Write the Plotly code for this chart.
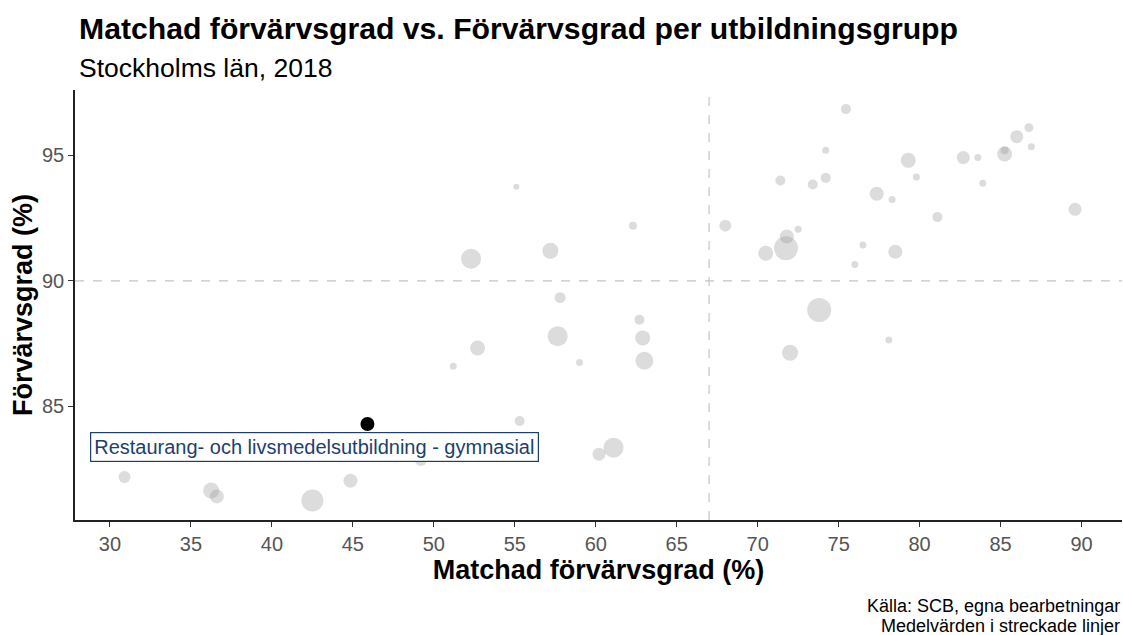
import plotly.graph_objects as go

# Matchad förvärvsgrad (%) per utbildningsgrupp
matchad = [55.1, 52.3, 57.2, 62.3, 68.0, 70.5, 57.8, 75.45, 74.2, 71.4,
           73.4, 74.2, 79.3, 79.8, 77.35, 78.3, 81.1, 82.7, 83.6, 83.9,
           85.25, 85.25, 86.0, 86.75, 86.9, 89.6, 72.5, 71.8, 71.75, 76.5,
           76.0, 78.5, 73.8, 72.0, 78.1, 52.7, 51.2, 57.65, 59.0, 62.7,
           62.9, 63.0, 55.3, 61.1, 60.2, 49.2, 30.9, 36.25, 36.6, 42.5,
           44.85]
# Förvärvsgrad (%)
forvarv = [93.75, 90.88, 91.2, 92.2, 92.2, 91.1, 89.33, 96.84, 95.2, 94.0,
           93.84, 94.1, 94.8, 94.14, 93.47, 93.24, 92.54, 94.91, 94.91, 93.89,
           95.05, 95.2, 95.74, 96.1, 95.34, 92.85, 92.06, 91.77, 91.3, 91.43,
           90.65, 91.16, 88.84, 87.14, 87.65, 87.33, 86.6, 87.8, 86.75, 88.45,
           87.73, 86.82, 84.42, 83.36, 83.1, 82.87, 82.19, 81.65, 81.42, 81.26,
           82.04]
# Antal (relativ gruppstorlek)
antal = [1800, 20000, 12800, 3200, 7200, 11250, 6050, 5000, 2450, 5000,
         5000, 5000, 11250, 2450, 9800, 2450, 5000, 8450, 2450, 2450,
         11250, 3200, 8450, 4050, 2450, 8450, 2450, 9800, 28800, 2450,
         2450, 9800, 28800, 12800, 2450, 11250, 2450, 20000, 2450, 5000,
         11250, 16200, 5000, 20000, 8450, 7200, 7200, 12800, 9800, 24200,
         9800]

vald_grupp = "Restaurang- och livsmedelsutbildning - gymnasial"
vald_x = [45.9]
vald_y = [84.3]
vald_antal = [9800]

medel_x = 67.0
medel_y = 90.0

x_ticks = [30, 35, 40, 45, 50, 55, 60, 65, 70, 75, 80, 85, 90]
y_ticks = [85, 90, 95]

FONT = "Liberation Sans, Arial, sans-serif"
SIZEREF = 100

fig = go.Figure()

fig.add_trace(go.Scatter(
    x=matchad, y=forvarv, mode="markers",
    marker=dict(size=antal, sizemode="area", sizeref=SIZEREF,
                color="rgba(150,150,150,0.47)", line=dict(width=0)),
    hoverinfo="x+y", showlegend=False,
))
fig.add_trace(go.Scatter(
    x=vald_x, y=vald_y, mode="markers",
    marker=dict(size=vald_antal, sizemode="area", sizeref=SIZEREF,
                color="#000000", opacity=1, line=dict(width=0)),
    showlegend=False,
))

fig.add_shape(type="line", xref="x", yref="paper", x0=medel_x, x1=medel_x,
              y0=0, y1=1, line=dict(color="#c4c4c4", width=1.2, dash="dash"),
              layer="below")
fig.add_shape(type="line", xref="paper", yref="y", x0=0, x1=1,
              y0=medel_y, y1=medel_y,
              line=dict(color="#c4c4c4", width=1.2, dash="dash"), layer="below")

fig.add_annotation(x=42.6, y=83.39, xref="x", yref="y", text=vald_grupp,
                   showarrow=False, font=dict(family=FONT, size=20, color="#1c3f6e"),
                   bgcolor="white", bordercolor="#1c3f6e", borderwidth=1.2,
                   borderpad=3)

fig.add_annotation(x=0, y=1.144, xref="paper", yref="paper", xanchor="left",
                   yanchor="middle", xshift=2, showarrow=False,
                   text="<b>Matchad förvärvsgrad vs. Förvärvsgrad per utbildningsgrupp</b>",
                   font=dict(family=FONT, size=30.2, color="black"))
fig.add_annotation(x=0, y=1.051, xref="paper", yref="paper", xanchor="left",
                   yanchor="middle", xshift=2, showarrow=False,
                   text="Stockholms län, 2018",
                   font=dict(family=FONT, size=26.5, color="black"))
fig.add_annotation(x=1, y=-0.2, xref="paper", yref="paper", xanchor="right",
                   yanchor="middle", showarrow=False,
                   text="Källa: SCB, egna bearbetningar",
                   font=dict(family=FONT, size=18, color="black"))
fig.add_annotation(x=1, y=-0.2465, xref="paper", yref="paper", xanchor="right",
                   yanchor="middle", showarrow=False,
                   text="Medelvärden i streckade linjer",
                   font=dict(family=FONT, size=18, color="black"))

fig.update_layout(
    width=1123, height=635,
    margin=dict(l=75, r=1, t=90, b=115),
    paper_bgcolor="white", plot_bgcolor="white",
    font=dict(family=FONT),
    xaxis=dict(range=[27.84, 92.5], tickvals=x_ticks, ticks="outside",
               ticklen=5, tickwidth=1, tickcolor="#333",
               showline=True, linecolor="#222", linewidth=1.5,
               showgrid=False, zeroline=False,
               tickfont=dict(size=20, color="#555"),
               title=dict(text="<b>Matchad förvärvsgrad (%)</b>",
                          font=dict(size=27, color="black"), standoff=4)),
    yaxis=dict(range=[80.48, 97.6], tickvals=y_ticks, ticks="outside",
               ticklen=5, tickwidth=1, tickcolor="#333",
               showline=True, linecolor="#222", linewidth=1.5,
               showgrid=False, zeroline=False,
               tickfont=dict(size=20, color="#555"),
               title=dict(text="<b>Förvärvsgrad (%)</b>",
                          font=dict(size=27, color="black"), standoff=2)),
)

fig.write_html("out.html",
               config={"displayModeBar": False},
               post_script="document.body.style.margin='0';document.body.style.padding='0';")
